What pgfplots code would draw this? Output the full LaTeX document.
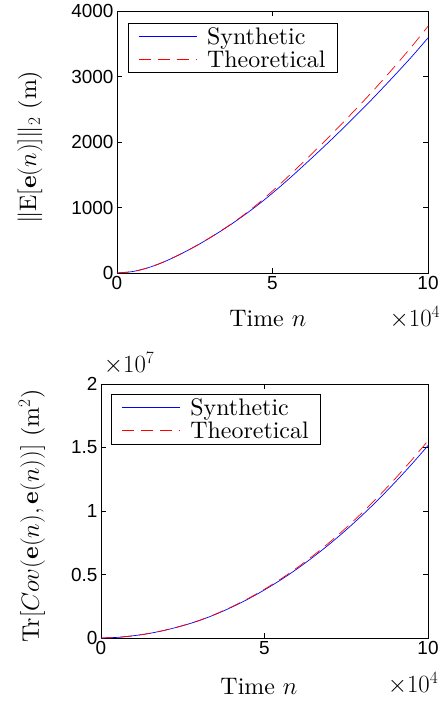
\documentclass[border=0pt]{standalone}
\usepackage{fontspec}
\setmainfont{lmroman10-regular.otf}[ItalicFont=lmroman10-italic.otf,BoldFont=lmroman10-bold.otf,BoldItalicFont=lmroman10-bolditalic.otf]
\usepackage{pgfplots}
\pgfplotsset{compat=1.18}
\usepackage{pgfplotstable}
\newfontfamily\ticksans{Liberation Sans}

\pgfplotstableread{
n s t
0 0 0
0.5 22 22
1 80 80
1.5 168 168
2 278 279
2.5 402 403
3 540 542
3.5 690 693
4 852 860
4.5 1028 1046
5 1220 1252
5.5 1425 1471
6 1640 1698
6.5 1860 1930
7 2085 2167
7.5 2318 2412
8 2555 2662
8.5 2802 2922
9 3055 3192
9.5 3315 3471
10 3589 3767
}\topdata

\pgfplotstableread{
n s t
0 0 0
0.5 0.005 0.005
1 0.018 0.018
1.5 0.037 0.037
2 0.064 0.064
2.5 0.097 0.098
3 0.137 0.138
3.5 0.186 0.188
4 0.243 0.246
4.5 0.307 0.311
5 0.379 0.384
5.5 0.458 0.465
6 0.545 0.554
6.5 0.640 0.651
7 0.742 0.756
7.5 0.852 0.869
8 0.970 0.990
8.5 1.095 1.119
9 1.228 1.256
9.5 1.368 1.401
10 1.515 1.553
}\botdata

\pgfplotsset{
  mystyle/.style={
    scale only axis, clip=false,
    xmin=0, xmax=10, xtick={0,5,10},
    tick align=inside, major tick length=5bp,
    axis line style={line width=0.8bp},
    every tick/.style={black, line width=0.8bp},
    tick label style={font=\fontsize{19}{19}\selectfont\ticksans},
    /pgf/number format/assume math mode=true,
    /pgf/number format/1000 sep={},
    label style={font=\fontsize{24}{29}\selectfont},
    legend style={font=\fontsize{24}{28}\selectfont, draw=black, line width=0.8bp,
      cells={anchor=west}, row sep=1bp, column sep=8bp, inner xsep=10bp, inner ysep=2bp},
    legend image code/.code={\draw[##1, line width=0.9bp] (0bp,0bp) -- (58bp,0bp);},
    scaled x ticks=false, scaled y ticks=false,
    xlabel={Time $n$},
  },
  synth/.style={color=blue, line width=0.7bp, smooth},
  theo/.style={color=red, line width=0.7bp, smooth, dash pattern=on 12bp off 7bp},
}

\begin{document}
\begin{tikzpicture}
\useasboundingbox (0,0) rectangle (445bp,702bp);
\begin{axis}[mystyle,
  at={(117bp,429bp)}, anchor=south west,
  width=311bp, height=262bp,
  ymin=0, ymax=4000, ytick={0,1000,2000,3000,4000},
  xlabel style={at={(axis description cs:0.485,-0.175)}, anchor=center},
  ylabel={$\|\mathrm{E}[\mathbf{e}(n)]\|_2$ (m)},
  ylabel style={at={(axis description cs:-0.28,0.48)}, anchor=center},
  legend style={at={(axis description cs:0.035,0.955)}, anchor=north west},
]
\addplot[synth] table[x=n, y=s] {\topdata};
\addlegendentry{Synthetic}
\addplot[theo] table[x=n, y=t] {\topdata};
\addlegendentry{Theoretical}
\node[font=\fontsize{23}{28}\selectfont, anchor=east] at (axis description cs:1.05,-0.17) {$\times10^4$};
\end{axis}

\begin{axis}[mystyle,
  at={(101bp,64bp)}, anchor=south west,
  width=327bp, height=254bp,
  ymin=0, ymax=2, ytick={0,0.5,1,1.5,2},
  xlabel style={at={(axis description cs:0.483,-0.193)}, anchor=center},
  ylabel={Tr$\left[Cov(\mathbf{e}(n),\mathbf{e}(n))\right]$ (m$^2$)},
  ylabel style={at={(axis description cs:-0.211,0.48)}, anchor=center},
  legend style={at={(axis description cs:0.031,0.96)}, anchor=north west},
]
\addplot[synth] table[x=n, y=s] {\botdata};
\addlegendentry{Synthetic}
\addplot[theo] table[x=n, y=t] {\botdata};
\addlegendentry{Theoretical}
\node[font=\fontsize{23}{28}\selectfont, anchor=east] at (axis description cs:1.042,-0.181) {$\times10^4$};
\node[font=\fontsize{23}{28}\selectfont] at (axis description cs:0.086,1.079) {$\times10^7$};
\end{axis}
\end{tikzpicture}
\end{document}
